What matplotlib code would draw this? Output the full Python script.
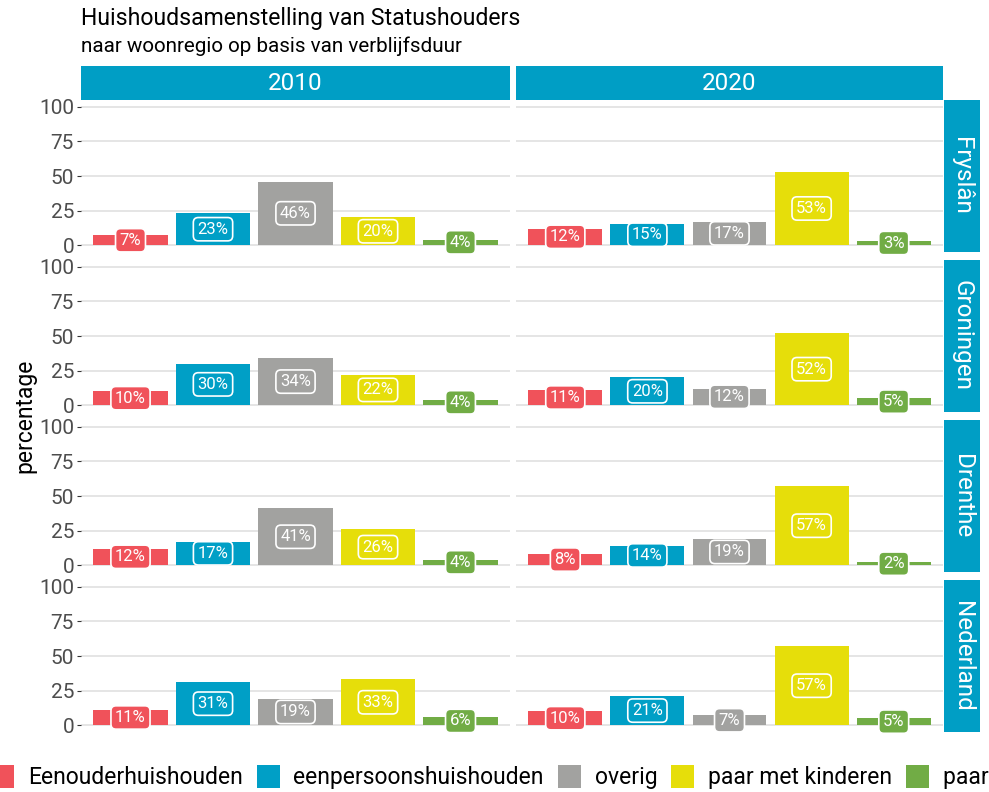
import matplotlib
matplotlib.use("Agg")
import matplotlib.pyplot as plt
from matplotlib.patches import Patch

plt.rcParams["font.family"] = ["Roboto", "DejaVu Sans"]

# household types and their colours
categories = ["Eenouderhuishouden", "eenpersoonshuishouden", "overig",
              "paar met kinderen", "paar zonder kinderen"]
colors = ["#F0525A", "#009FC6", "#A2A2A0", "#E6DE0A", "#71AC45"]

years = ["2010", "2020"]
regions = ["Fryslân", "Groningen", "Drenthe", "Nederland"]

# percentages per household type, per region and year
fryslan_2010 = [7, 23, 46, 20, 4]
fryslan_2020 = [12, 15, 17, 53, 3]
groningen_2010 = [10, 30, 34, 22, 4]
groningen_2020 = [11, 20, 12, 52, 5]
drenthe_2010 = [12, 17, 41, 26, 4]
drenthe_2020 = [8, 14, 19, 57, 2]
nederland_2010 = [11, 31, 19, 33, 6]
nederland_2020 = [10, 21, 7, 57, 5]

data = {
    ("Fryslân", "2010"): fryslan_2010, ("Fryslân", "2020"): fryslan_2020,
    ("Groningen", "2010"): groningen_2010, ("Groningen", "2020"): groningen_2020,
    ("Drenthe", "2010"): drenthe_2010, ("Drenthe", "2020"): drenthe_2020,
    ("Nederland", "2010"): nederland_2010, ("Nederland", "2020"): nederland_2020,
}

STRIP = "#009EC5"
GRID = "#DEDEDE"
W, H = 989, 792

fig = plt.figure(figsize=(W / 100, H / 100), dpi=100)


def px_axes(x, y, w, h):
    return fig.add_axes([x / W, 1 - (y + h) / H, w / W, h / H])


col_x = [81, 516]
col_w = [429, 427]
row_y = [100, 260, 420, 580]
row_h = 152

xpos = list(range(1, len(categories) + 1))

for r, region in enumerate(regions):
    for c, year in enumerate(years):
        ax = px_axes(col_x[c], row_y[r], col_w[c], row_h)
        vals = data[(region, year)]
        ax.bar(xpos, vals, width=0.9, color=colors, zorder=2)
        for x, v, col in zip(xpos, vals, colors):
            ax.text(x, v / 2, "{}%".format(v), ha="center", va="center",
                    color="white", fontsize=12, zorder=3,
                    bbox=dict(boxstyle="round,pad=0.25,rounding_size=0.3",
                              fc=col, ec="white", lw=1.2))
        ax.set_xlim(0.4, 5.6)
        ax.set_ylim(-5, 105)
        ax.set_yticks([0, 25, 50, 75, 100])
        ax.set_xticks([])
        ax.grid(axis="y", color=GRID, lw=1.1, zorder=0)
        ax.set_axisbelow(True)
        for s in ax.spines.values():
            s.set_visible(False)
        if c == 0:
            ax.tick_params(axis="y", length=3, color="#333333",
                           labelcolor="#4D4D4D", labelsize=15, pad=2)
        else:
            ax.tick_params(axis="y", length=0, labelleft=False)

# column strips
for c, year in enumerate(years):
    sax = px_axes(col_x[c], 66, col_w[c], 34)
    sax.set_facecolor(STRIP)
    sax.set_xticks([])
    sax.set_yticks([])
    for s in sax.spines.values():
        s.set_visible(False)
    sax.text(0.5, 0.5, year, ha="center", va="center", color="white",
             fontsize=17.5, transform=sax.transAxes)

# row strips
for r, region in enumerate(regions):
    sax = px_axes(944, row_y[r], 36, row_h)
    sax.set_facecolor(STRIP)
    sax.set_xticks([])
    sax.set_yticks([])
    for s in sax.spines.values():
        s.set_visible(False)
    sax.text(0.5, 0.5, region, ha="center", va="center", color="white",
             fontsize=17.5, rotation=270, transform=sax.transAxes)

fig.text(81 / W, 1 - 18 / H, "Huishoudsamenstelling van Statushouders",
         fontsize=16.6, va="center", ha="left")
fig.text(81 / W, 1 - 46 / H, "naar woonregio op basis van verblijfsduur",
         fontsize=14.9, va="center", ha="left")
fig.text(25 / W, 1 - 416 / H, "percentage", fontsize=16.5, rotation=90,
         va="center", ha="center")

handles = [Patch(facecolor=col, edgecolor="none") for col in colors]
fig.legend(handles, categories, loc="center left",
           bbox_to_anchor=(-9 / W, 1 - 777 / H), ncol=5, frameon=False,
           fontsize=16.5, handlelength=1.0, handleheight=1.16,
           handletextpad=0.6, columnspacing=0.62, borderpad=0,
           borderaxespad=0)

fig.savefig("out.png", dpi=100)
